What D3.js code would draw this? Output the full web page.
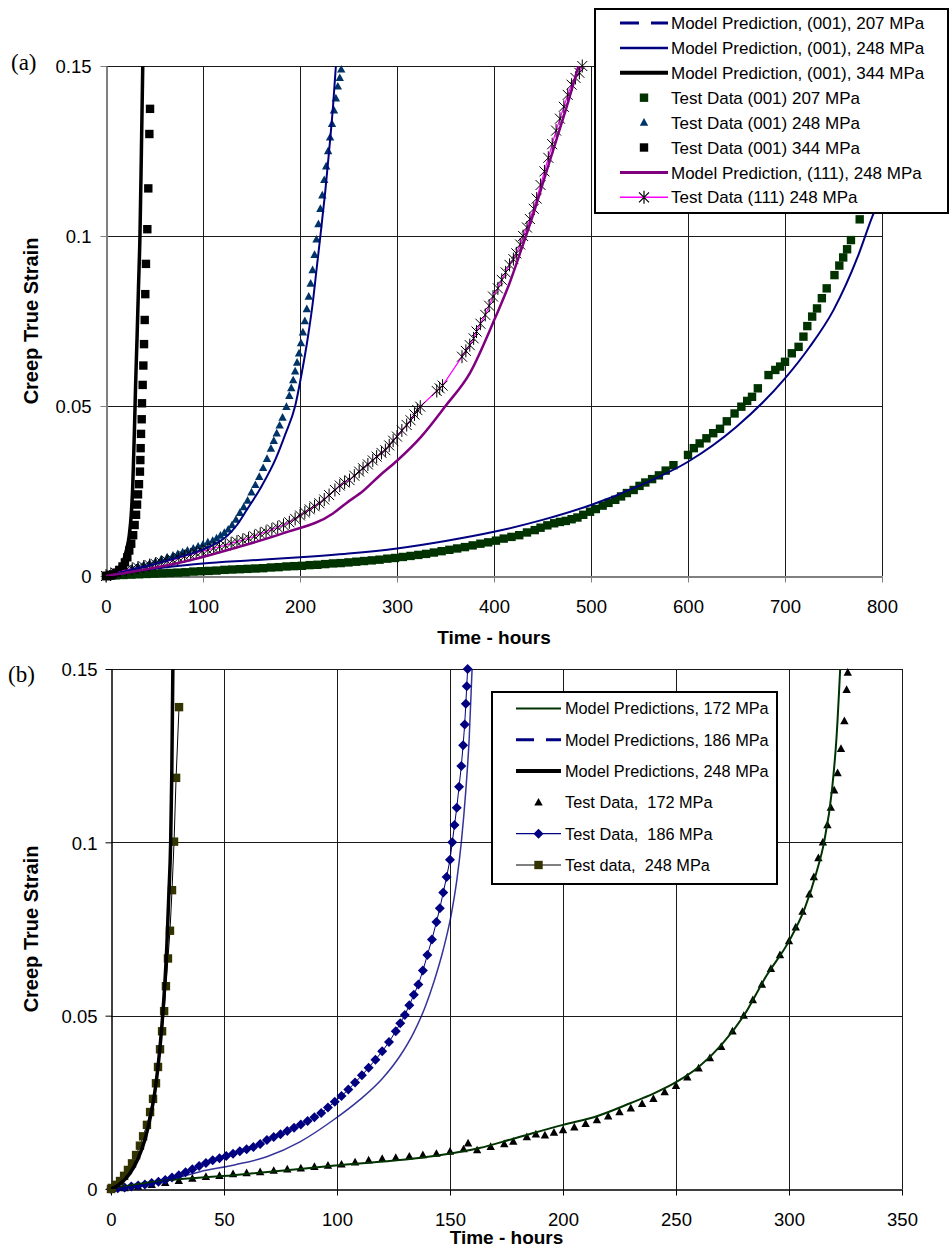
<!DOCTYPE html>
<html>
<head>
<meta charset="utf-8">
<script src="https://cdn.jsdelivr.net/npm/d3@7"></script>
<style>
  html, body { margin: 0; padding: 0; background: #fff; }
  svg { display: block; font-family: "Liberation Sans", Arial, sans-serif; }
</style>
</head>
<body>
<svg id="chart" width="952" height="1249"></svg>
<script>
// ---------- Axis ticks ----------
const hoursTicksA = [0, 100, 200, 300, 400, 500, 600, 700, 800];
const hoursTicksB = [0, 50, 100, 150, 200, 250, 300, 350];
const strainTicks = [0, 0.05, 0.1, 0.15];
const strainTickLabels = ["0", "0.05", "0.1", "0.15"];

// ---------- Panel (a): [hours, creep true strain] ----------
const modelA207 = [[0,0],[28,0.0013],[60,0.0025],[100,0.0037],[150,0.0046],[200,0.0055],[250,0.0066],[300,0.0081],[350,0.0103],[400,0.0130],[450,0.0165],[500,0.0209],[550,0.0266],[600,0.0336],[650,0.0439],[700,0.0581],[725,0.0672],[750,0.0782],[775,0.0939],[790,0.1057],[800,0.1125]];
const modelA248 = [[0,0],[25,0.0018],[50,0.0035],[75,0.0055],[100,0.0078],[115,0.0098],[125,0.0118],[135,0.0150],[145,0.0194],[160,0.0262],[175,0.0345],[185,0.0418],[195,0.0500],[202,0.0600],[208,0.0700],[213,0.0800],[217,0.0900],[221,0.1000],[226,0.1130],[230,0.1250],[234,0.1380],[237.5,0.1520]];
const modelA344 = [[0,0],[5,0.0004],[10,0.0012],[15,0.0028],[18,0.0045],[21,0.0075],[24,0.0120],[26,0.0180],[27.5,0.0260],[28.5,0.0350],[29.5,0.0450],[30.5,0.0560],[32,0.0700],[33.5,0.0850],[35,0.1000],[36.5,0.1250],[38,0.1520]];
const modelA111 = [[0,0],[28,0.0013],[80,0.0042],[131,0.0081],[183,0.0126],[234,0.0184],[248,0.0215],[265,0.0250],[282,0.0295],[300,0.0339],[325,0.0410],[350,0.0500],[375,0.0596],[401,0.0758],[416,0.0861],[428,0.0959],[440,0.1060],[452,0.1170],[464,0.1280],[476,0.1390],[489,0.1520]];

const testA207 = [[0,0],[5,0.0001],[10,0.0002],[18,0.0003],[26,0.0004],[34,0.0005],[42,0.0006],[50,0.0007],[58,0.0008],[66,0.0009],[74,0.0010],[82,0.0011],[90,0.0013],[98,0.0014],[106,0.0015],[114,0.0016],[122,0.0018],[130,0.0019],[138,0.0020],[146,0.0021],[154,0.0022],[162,0.0023],[170,0.0025],[178,0.0026],[186,0.0028],[194,0.0029],[202,0.0030],[210,0.0032],[218,0.0033],[226,0.0035],[234,0.0037],[242,0.0038],[250,0.0040],[258,0.0042],[266,0.0044],[274,0.0046],[282,0.0048],[290,0.0051],[298,0.0053],[306,0.0056],[314,0.0059],[322,0.0062],[330,0.0065],[338,0.0069],[346,0.0073],[354,0.0077],[362,0.0081],[370,0.0085],[378,0.0090],[386,0.0095],[394,0.0099],[402,0.0104],[410,0.0110],[418,0.0115],[426,0.0120],[434,0.0128],[442,0.0135],[448,0.0142],[455,0.0149],[462,0.0155],[468,0.0159],[474,0.0162],[480,0.0167],[486,0.0172],[492,0.0180],[499,0.0189],[505,0.0197],[512,0.0207],[518,0.0215],[525,0.0224],[531,0.0234],[537,0.0244],[544,0.0253],[550,0.0265],[556,0.0275],[563,0.0285],[570,0.0296],[577,0.0310],[585,0.0326],[600,0.0356],[606,0.0376],[612,0.0390],[619,0.0405],[626,0.0420],[633,0.0433],[640,0.0455],[648,0.0478],[655,0.0498],[661,0.0515],[666,0.0527],[672,0.0552],[683,0.0591],[690,0.0606],[695,0.0616],[700,0.0630],[707,0.0655],[714,0.0674],[719,0.0704],[723,0.0735],[728,0.0763],[733,0.0787],[738,0.0817],[743,0.0846],[751,0.0885],[756,0.0913],[760,0.0937],[764,0.0961],[768,0.0988],[777,0.1049]];

const testA248 = [[0,0],[4,0.0003],[8,0.0006],[12,0.0010],[16,0.0014],[21,0.0018],[27,0.0023],[33,0.0028],[39,0.0032],[45,0.0037],[51,0.0043],[57,0.0049],[63,0.0055],[69,0.0060],[74,0.0065],[79,0.0070],[84,0.0075],[90,0.0081],[95,0.0087],[100,0.0093],[105,0.0099],[110,0.0104],[114,0.0111],[118,0.0119],[122,0.0127],[126,0.0137],[130,0.0150],[134,0.0166],[138,0.0186],[142,0.0203],[146,0.0222],[150,0.0246],[154,0.0268],[158,0.0292],[162,0.0318],[166,0.0345],[170,0.0375],[173,0.0398],[176,0.0420],[179,0.0443],[182,0.0466],[186,0.0498],[189,0.0530],[191,0.0553],[193,0.0576],[195,0.0602],[197,0.0628],[199,0.0655],[201,0.0685],[203,0.0717],[205,0.0750],[207,0.0785],[209,0.0822],[211,0.0860],[213,0.0900],[215,0.0945],[217,0.0990],[219,0.1035],[221,0.1080],[223,0.1120],[225,0.1165],[227,0.1205],[229,0.1250],[231,0.1290],[233,0.1330],[235,0.1370],[237,0.1405],[239,0.1440],[241,0.1465],[242.5,0.1490]];

const testA344 = [[0,0],[1,0],[4,0.0002],[7,0.0005],[11,0.0010],[14,0.0018],[17,0.0028],[19.5,0.0040],[22,0.0055],[24,0.0075],[26,0.0095],[28,0.0120],[29.5,0.0150],[31,0.0180],[32,0.0210],[33,0.0240],[34,0.0270],[35,0.0307],[35.4,0.0341],[35.7,0.0376],[36.1,0.0418],[36.8,0.0461],[37.1,0.0508],[37.8,0.0562],[38.5,0.0619],[39.2,0.0682],[39.9,0.0753],[40.5,0.0829],[41.2,0.0918],[42.6,0.1020],[43.6,0.1140],[44.7,0.1300],[45.4,0.1374]];

const testA111 = [[0,0],[5,0.0005],[10,0.0010],[15,0.0014],[21,0.0018],[27,0.0021],[33,0.0025],[39,0.0028],[45,0.0032],[51,0.0036],[57,0.0040],[63,0.0044],[69,0.0047],[75,0.0053],[81,0.0058],[87,0.0063],[93,0.0068],[99,0.0073],[105,0.0077],[111,0.0082],[117,0.0086],[123,0.0090],[129,0.0096],[135,0.0101],[141,0.0106],[147,0.0111],[153,0.0117],[159,0.0124],[165,0.0130],[171,0.0137],[177,0.0143],[183,0.0150],[189,0.0158],[195,0.0168],[200,0.0178],[205,0.0187],[210,0.0196],[215,0.0205],[220,0.0214],[225,0.0225],[230,0.0238],[236,0.0253],[241,0.0266],[246,0.0275],[251,0.0282],[256,0.0295],[261,0.0307],[265,0.0317],[270,0.0328],[275,0.0340],[279,0.0351],[284,0.0362],[288,0.0370],[292,0.0384],[296,0.0398],[300,0.0410],[305,0.0428],[310,0.0444],[314,0.0458],[318,0.0475],[321,0.0488],[324,0.0498],[341,0.0544],[344,0.0552],[347,0.0560],[367,0.0645],[371,0.0662],[375,0.0679],[379,0.0699],[382,0.0719],[386,0.0742],[391,0.0768],[395,0.0795],[399,0.0822],[404,0.0846],[408,0.0871],[412,0.0893],[416,0.0915],[420,0.0932],[423,0.0949],[427,0.0975],[430,0.1000],[434,0.1025],[437,0.1050],[441,0.1080],[444,0.1110],[448,0.1150],[452,0.1190],[456,0.1230],[460,0.1270],[464,0.1310],[468,0.1345],[472,0.1380],[476,0.1415],[480,0.1445],[484,0.1465],[488,0.1480],[491,0.1500]];

// ---------- Panel (b): [hours, creep true strain] ----------
const modelB172 = [[0,0],[10,0.0012],[25,0.0025],[54,0.0040],[98,0.0067],[143,0.0095],[163,0.0118],[178,0.0145],[200,0.0185],[215,0.0210],[230,0.0248],[240,0.0275],[250,0.0308],[260,0.0352],[270,0.0415],[280,0.0500],[290,0.0615],[300,0.0715],[307,0.0810],[312,0.0910],[315.5,0.1000],[319,0.1150],[321,0.1300],[322.8,0.1520]];
const modelB186 = [[0,0],[10,0.0008],[25,0.0025],[39.4,0.0050],[55,0.0070],[68.9,0.0093],[83.6,0.0136],[98.4,0.0199],[110,0.0257],[120,0.0318],[128,0.0385],[134,0.0452],[139,0.0525],[143,0.0600],[147,0.0690],[150.5,0.0790],[153,0.0890],[155,0.1000],[157,0.1150],[158.5,0.1300],[159.9,0.1520]];
const modelB248 = [[0,0],[4,0.0015],[8,0.0042],[12,0.0088],[15,0.0142],[17.5,0.0210],[19.5,0.0285],[21,0.0365],[22.5,0.0470],[23.7,0.0580],[24.7,0.0700],[25.6,0.0850],[26.4,0.1000],[26.9,0.1200],[27.4,0.1520]];

const testB172 = [[0,0],[6,0.0003],[12,0.0007],[18,0.0012],[24,0.0018],[30,0.0024],[36,0.0030],[42,0.0035],[48,0.0038],[54,0.0043],[60,0.0046],[66,0.0049],[72,0.0053],[78,0.0057],[84,0.0060],[90,0.0064],[96,0.0068],[102,0.0071],[108,0.0077],[114,0.0083],[120,0.0087],[126,0.0090],[132,0.0094],[138,0.0098],[144,0.0102],[150,0.0108],[156,0.0115],[158,0.0132],[162,0.0112],[168,0.0122],[174,0.0130],[178,0.0137],[184,0.0150],[188,0.0158],[192,0.0155],[196,0.0163],[200,0.0170],[205,0.0178],[210,0.0188],[215,0.0199],[220,0.0210],[225,0.0222],[230,0.0233],[235,0.0246],[240,0.0260],[245,0.0280],[250,0.0298],[255,0.0322],[260,0.0348],[265,0.0378],[270,0.0410],[275,0.0455],[280,0.0500],[284,0.0545],[288,0.0590],[292,0.0635],[296,0.0675],[300,0.0715],[303,0.0755],[306,0.0800],[309,0.0850],[311,0.0900],[313,0.0955],[315,0.1000],[317,0.1050],[318.5,0.1100],[320,0.1150],[321.5,0.1200],[323,0.1270],[324.5,0.1350],[325.5,0.1440],[326,0.1490]];

const testB186 = [[0,0],[3,0.0002],[6,0.0004],[9,0.0007],[12,0.0010],[15,0.0013],[18,0.0017],[21,0.0021],[24,0.0026],[27,0.0033],[30,0.0040],[33,0.0048],[36,0.0057],[39,0.0066],[42,0.0075],[45,0.0083],[48,0.0089],[51,0.0095],[54,0.0102],[57,0.0109],[60,0.0115],[63,0.0121],[66,0.0130],[69,0.0141],[72,0.0150],[75,0.0158],[78,0.0167],[81,0.0177],[84,0.0186],[87,0.0196],[90,0.0207],[93,0.0219],[96,0.0235],[99,0.0252],[102,0.0268],[105,0.0287],[108,0.0307],[111,0.0328],[114,0.0350],[117,0.0373],[120,0.0397],[123,0.0424],[126,0.0455],[128,0.0478],[130,0.0502],[132,0.0530],[134,0.0560],[136,0.0590],[138,0.0630],[140,0.0675],[142,0.0720],[144,0.0770],[145.5,0.0810],[147,0.0855],[148.5,0.0900],[150,0.0950],[151,0.1000],[152,0.1050],[153,0.1100],[154,0.1160],[155,0.1220],[155.8,0.1280],[156.5,0.1340],[157,0.1400],[157.4,0.1450],[157.8,0.1500]];

const testB248 = [[0,0],[0.4,0.0003],[2.2,0.0012],[4,0.0023],[5.8,0.0038],[7.5,0.0055],[9.3,0.0074],[11.1,0.0098],[12.8,0.0125],[14.2,0.0152],[15.9,0.0185],[17.3,0.0222],[18.6,0.0260],[19.9,0.0305],[20.8,0.0352],[21.7,0.0403],[22.6,0.0455],[23.5,0.0513],[24.3,0.0585],[25.2,0.0665],[26.1,0.0745],[27.0,0.0862],[27.9,0.1002],[28.8,0.1186],[30.1,0.1390]];

// ---------- Legend texts ----------
const legendLabelsA = [
  "Model Prediction, (001), 207 MPa",
  "Model Prediction, (001), 248 MPa",
  "Model Prediction, (001), 344 MPa",
  "Test Data (001) 207 MPa",
  "Test Data (001) 248 MPa",
  "Test Data (001) 344 MPa",
  "Model Prediction, (111), 248 MPa",
  "Test Data (111) 248 MPa"
];
const legendLabelsB = [
  "Model Predictions, 172 MPa",
  "Model Predictions, 186 MPa",
  "Model Predictions, 248 MPa",
  "Test Data,  172 MPa",
  "Test Data,  186 MPa",
  "Test data,  248 MPa"
];

// ---------- Marker shapes ----------
const markerPaths = {
  square: "M-4.2,-4.2H4.2V4.2H-4.2Z",
  triangle: "M0,-4.5L4.2,3.2L-4.2,3.2Z",
  diamond: "M0,-5L5,0L0,5L-5,0Z",
  star: "M-5,-5L5,5M-5,5L5,-5M0,-6.5V6.5"
};

// Series styles (line + marker) used in the plots and legends
const styleA = [
  { line: "#000080", width: 2, legendWidth: 3, dash: "19,12" },
  { line: "#000080", width: 2, legendWidth: 2.5 },
  { line: "#000000", width: 3.5, legendWidth: 4 },
  { marker: "square", fill: "#003300" },
  { marker: "triangle", fill: "#003366" },
  { marker: "square", fill: "#000000" },
  { line: "#800080", width: 2.5, legendWidth: 3 },
  { line: "#ff00ff", width: 1.2, legendWidth: 1.5, marker: "star", stroke: "#000" }
];
const styleB = [
  { line: "#003300", width: 2, legendWidth: 2 },
  { line: "#000080", width: 1.5, legendWidth: 3, dash: "18,12", opacity: 0.8 },
  { line: "#000000", width: 3.5, legendWidth: 4 },
  { marker: "triangle", fill: "#000000" },
  { line: "#000080", width: 1, legendWidth: 1.2, marker: "diamond", fill: "#000080" },
  { line: "#000000", width: 1, legendWidth: 1.2, marker: "square", fill: "#333300" }
];

const svg = d3.select("#chart");

function drawPanel(opt) {
  const { x, y, xTicks, id } = opt;
  const g = svg.append("g");
  const [xl, xr] = x.range();
  const [yb, yt] = y.range();

  svg.append("defs").append("clipPath").attr("id", id)
    .append("rect").attr("x", xl).attr("y", yt).attr("width", xr - xl).attr("height", yb - yt);

  // grid
  const grid = g.append("g").attr("stroke", opt.gridColor).attr("stroke-width", 1);
  grid.selectAll("line.v").data(xTicks.filter(d => d > 0)).join("line")
    .attr("x1", d => Math.round(x(d)) + 0.5).attr("x2", d => Math.round(x(d)) + 0.5)
    .attr("y1", yt).attr("y2", yb);
  grid.selectAll("line.h").data(strainTicks.filter(d => d > 0)).join("line")
    .attr("x1", xl).attr("x2", xr)
    .attr("y1", d => Math.round(y(d)) + 0.5).attr("y2", d => Math.round(y(d)) + 0.5);

  // axes
  const xAxis = g.append("g").attr("transform", `translate(0,${Math.round(yb) + 0.5})`)
    .call(d3.axisBottom(x).tickValues(xTicks).tickSize(6).tickSizeOuter(0).tickFormat(d3.format("d")));
  const yAxis = g.append("g").attr("transform", `translate(${Math.round(xl) + 0.5},0)`)
    .call(d3.axisLeft(y).tickValues(strainTicks).tickSize(6).tickSizeOuter(0)
      .tickFormat((d, i) => strainTickLabels[i]));
  [xAxis, yAxis].forEach(a => {
    a.selectAll("path.domain").attr("stroke", opt.axisColor).attr("stroke-width", opt.axisWidth);
    a.selectAll(".tick line").attr("stroke", opt.axisColor).attr("stroke-width", 1);
    a.selectAll(".tick text").attr("fill", "#000")
      .style("font-family", "'Liberation Sans', Arial, sans-serif").style("font-size", "18.5px");
  });
  xAxis.selectAll(".tick text").attr("y", 36).attr("dy", null);
  yAxis.selectAll(".tick text").attr("x", opt.yLabelX).attr("dy", "0.36em");

  // titles
  g.append("text").attr("x", (xl + xr) / 2).attr("y", opt.xTitleY)
    .attr("text-anchor", "middle").style("font-size", "19px").style("font-weight", "bold")
    .text("Time - hours");
  g.append("text").attr("transform", `translate(${opt.yTitleX},${(yb + yt) / 2}) rotate(-90)`)
    .attr("text-anchor", "middle").style("font-size", "20px").style("font-weight", "bold")
    .text("Creep True Strain");
  g.append("text").attr("x", opt.tagX).attr("y", opt.tagY)
    .style("font-family", "'Liberation Serif', 'Times New Roman', serif").style("font-size", "23px")
    .text(opt.tag);

  // series: test data first, model curves drawn over them
  const plot = g.append("g");
  const lineGen = (curve) => d3.line().x(d => x(d[0])).y(d => y(d[1])).curve(curve);

  opt.tests.forEach(s => {
    const st = s.style;
    if (st.line) {
      plot.append("path").datum(s.data).attr("clip-path", `url(#${id})`)
        .attr("fill", "none").attr("stroke", st.line).attr("stroke-width", st.width)
        .attr("d", lineGen(d3.curveLinear));
    }
    plot.append("g").selectAll("path").data(s.data).join("path")
      .attr("transform", d => `translate(${x(d[0])},${y(d[1])})`)
      .attr("d", markerPaths[st.marker])
      .attr("fill", st.marker === "star" ? "none" : st.fill)
      .attr("stroke", st.marker === "star" ? st.stroke : "none")
      .attr("stroke-width", 1);
  });
  opt.models.forEach(s => {
    const st = s.style;
    plot.append("path").datum(s.data).attr("clip-path", `url(#${id})`)
      .attr("fill", "none").attr("stroke", st.line).attr("stroke-width", st.width)
      .attr("stroke-opacity", st.opacity || 1)
      .attr("stroke-linejoin", "round")
      .attr("d", lineGen(d3.curveMonotoneX));
  });

  // legend
  const L = opt.legend;
  const lg = g.append("g");
  lg.append("rect").attr("x", L.x).attr("y", L.y).attr("width", L.w).attr("height", L.h)
    .attr("fill", "#fff").attr("stroke", "#000").attr("stroke-width", 2);
  L.labels.forEach((label, i) => {
    const st = L.styles[i];
    const cy = L.y + L.first + i * L.step;
    const row = lg.append("g");
    if (st.line) {
      row.append("line").attr("x1", L.sx0).attr("x2", L.sx1).attr("y1", cy).attr("y2", cy)
        .attr("stroke", st.line).attr("stroke-width", st.legendWidth)
        .attr("stroke-dasharray", st.dash || null);
    }
    if (st.marker) {
      row.append("path").attr("transform", `translate(${(L.sx0 + L.sx1) / 2},${cy})`)
        .attr("d", markerPaths[st.marker])
        .attr("fill", st.marker === "star" ? "none" : st.fill)
        .attr("stroke", st.marker === "star" ? st.stroke : "none").attr("stroke-width", 1.2);
    }
    row.append("text").attr("x", L.tx).attr("y", cy).attr("dy", "0.36em")
      .style("font-size", L.font).style("white-space", "pre").text(label);
  });
}

// Panel (a)
const xA = d3.scaleLinear().domain([0, 800]).range([106, 882]);
const yA = d3.scaleLinear().domain([0, 0.15]).range([576, 66]);
drawPanel({
  id: "clipA", x: xA, y: yA, xTicks: hoursTicksA,
  gridColor: "#1a1a1a", axisColor: "#808080", axisWidth: 2,
  yLabelX: -15, xTitleY: 644, yTitleX: 38, tag: "(a)", tagX: 11, tagY: 70,
  tests: [
    { data: testA207, style: styleA[3] },
    { data: testA248, style: styleA[4] },
    { data: testA344, style: styleA[5] },
    { data: testA111, style: styleA[7] }
  ],
  models: [
    { data: modelA207, style: styleA[0] },
    { data: modelA248, style: styleA[1] },
    { data: modelA344, style: styleA[2] },
    { data: modelA111, style: styleA[6] }
  ],
  legend: { x: 595, y: 9, w: 353, h: 204, first: 14, step: 24.9, sx0: 620, sx1: 668, tx: 671,
            font: "17px", labels: legendLabelsA, styles: styleA }
});

// Panel (b)
const xB = d3.scaleLinear().domain([0, 350]).range([111, 902]);
const yB = d3.scaleLinear().domain([0, 0.15]).range([1189, 669]);
drawPanel({
  id: "clipB", x: xB, y: yB, xTicks: hoursTicksB,
  gridColor: "#1a1a1a", axisColor: "#000", axisWidth: 1.5,
  yLabelX: -14, xTitleY: 1244, yTitleX: 38, tag: "(b)", tagX: 8, tagY: 682,
  tests: [
    { data: testB172, style: styleB[3] },
    { data: testB186, style: styleB[4] },
    { data: testB248, style: styleB[5] }
  ],
  models: [
    { data: modelB172, style: styleB[0] },
    { data: modelB186, style: styleB[1] },
    { data: modelB248, style: styleB[2] }
  ],
  legend: { x: 492, y: 692, w: 285, h: 192, first: 16.5, step: 31.3, sx0: 516, sx1: 561, tx: 565,
            font: "16.3px", labels: legendLabelsB, styles: styleB }
});
</script>
</body>
</html>
